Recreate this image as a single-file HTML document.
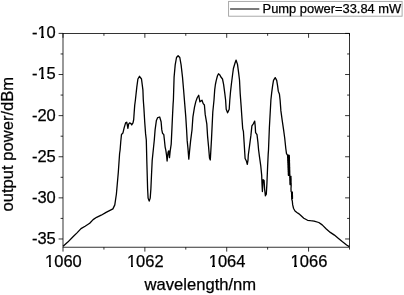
<!DOCTYPE html>
<html><head><meta charset="utf-8"><style>
html,body{margin:0;padding:0;background:#fff;width:404px;height:295px;overflow:hidden}
svg{display:block;will-change:transform}
text{font-family:"Liberation Sans",sans-serif;fill:#000;stroke:#000;stroke-width:0.25px}
</style></head><body>
<svg width="404" height="295" viewBox="0 0 404 295">
<rect x="0" y="0" width="404" height="295" fill="#fff"/>
<rect x="228.6" y="1.4" width="173.5" height="14.8" fill="#fff" stroke="#a0a0a0" stroke-width="0.9"/>
<line x1="230.1" y1="9" x2="259.3" y2="9" stroke="#333" stroke-width="1.3"/>
<text x="262.6" y="12.7" font-size="12.9">Pump power=33.84 mW</text>
<g stroke="#000" stroke-width="0.8" fill="none">
<rect x="63.0" y="33.4" width="286.5" height="213.79999999999998"/>
<line x1="63.00" y1="247.20" x2="63.00" y2="251.60"/><line x1="63.00" y1="33.40" x2="63.00" y2="37.80"/><line x1="103.93" y1="247.20" x2="103.93" y2="249.60"/><line x1="103.93" y1="33.40" x2="103.93" y2="35.80"/><line x1="144.86" y1="247.20" x2="144.86" y2="251.60"/><line x1="144.86" y1="33.40" x2="144.86" y2="37.80"/><line x1="185.79" y1="247.20" x2="185.79" y2="249.60"/><line x1="185.79" y1="33.40" x2="185.79" y2="35.80"/><line x1="226.71" y1="247.20" x2="226.71" y2="251.60"/><line x1="226.71" y1="33.40" x2="226.71" y2="37.80"/><line x1="267.64" y1="247.20" x2="267.64" y2="249.60"/><line x1="267.64" y1="33.40" x2="267.64" y2="35.80"/><line x1="308.57" y1="247.20" x2="308.57" y2="251.60"/><line x1="308.57" y1="33.40" x2="308.57" y2="37.80"/><line x1="349.50" y1="247.20" x2="349.50" y2="249.60"/><line x1="349.50" y1="33.40" x2="349.50" y2="35.80"/><line x1="63.00" y1="33.40" x2="58.60" y2="33.40"/><line x1="349.50" y1="33.40" x2="345.10" y2="33.40"/><line x1="63.00" y1="53.96" x2="60.60" y2="53.96"/><line x1="349.50" y1="53.96" x2="347.10" y2="53.96"/><line x1="63.00" y1="74.52" x2="58.60" y2="74.52"/><line x1="349.50" y1="74.52" x2="345.10" y2="74.52"/><line x1="63.00" y1="95.07" x2="60.60" y2="95.07"/><line x1="349.50" y1="95.07" x2="347.10" y2="95.07"/><line x1="63.00" y1="115.63" x2="58.60" y2="115.63"/><line x1="349.50" y1="115.63" x2="345.10" y2="115.63"/><line x1="63.00" y1="136.19" x2="60.60" y2="136.19"/><line x1="349.50" y1="136.19" x2="347.10" y2="136.19"/><line x1="63.00" y1="156.75" x2="58.60" y2="156.75"/><line x1="349.50" y1="156.75" x2="345.10" y2="156.75"/><line x1="63.00" y1="177.30" x2="60.60" y2="177.30"/><line x1="349.50" y1="177.30" x2="347.10" y2="177.30"/><line x1="63.00" y1="197.86" x2="58.60" y2="197.86"/><line x1="349.50" y1="197.86" x2="345.10" y2="197.86"/><line x1="63.00" y1="218.42" x2="60.60" y2="218.42"/><line x1="349.50" y1="218.42" x2="347.10" y2="218.42"/><line x1="63.00" y1="238.98" x2="58.60" y2="238.98"/><line x1="349.50" y1="238.98" x2="345.10" y2="238.98"/>
</g>
<path d="M63.1,246.2 L67.8,242.1 L73.5,236.3 L77.0,232.9 L81.0,228.6 L85.1,226.2 L89.7,223.3 L93.1,219.6 L96.6,217.3 L101.2,215.2 L106.1,212.4 L112.9,208.9 L114.8,204.9 L116.4,194.0 L118.3,172.4 L119.6,153.5 L120.1,150.0 L120.8,141.2 L121.5,134.4 L122.9,133.1 L124.2,127.6 L125.6,122.9 L126.7,122.2 L127.3,124.9 L127.9,128.3 L128.6,124.2 L129.6,122.9 L131.0,123.6 L131.7,124.9 L133.0,122.9 L133.7,119.5 L134.1,113.6 L134.7,105.4 L135.4,100.0 L136.8,87.1 L137.9,79.0 L139.5,76.3 L141.5,79.0 L142.9,89.9 L143.3,100.0 L143.9,108.1 L144.7,121.7 L145.6,133.9 L146.3,140.0 L146.8,160.4 L147.3,178.0 L147.6,188.6 L148.1,198.1 L149.2,201.1 L150.2,198.1 L150.9,188.6 L151.5,175.0 L152.2,160.4 L153.6,146.8 L154.3,140.0 L155.1,129.9 L156.4,120.4 L157.7,117.6 L159.7,117.0 L161.1,121.7 L161.8,129.9 L162.5,133.2 L163.8,134.6 L164.4,140.0 L165.1,146.8 L165.8,150.2 L166.5,154.9 L167.1,161.0 L168.1,152.0 L168.8,150.9 L169.5,157.6 L170.2,150.9 L171.2,144.1 L172.0,127.1 L172.6,114.0 L173.1,104.1 L173.4,100.0 L173.7,90.0 L174.1,77.1 L175.2,64.9 L176.5,57.5 L178.1,55.7 L179.8,57.5 L181.1,64.9 L182.5,77.1 L183.6,90.0 L184.7,103.6 L185.8,117.1 L186.6,130.0 L187.2,140.9 L187.9,147.6 L188.8,159.2 L189.5,151.7 L190.6,140.9 L192.0,130.0 L192.9,117.1 L194.5,107.2 L195.8,101.6 L197.2,97.8 L198.7,95.2 L199.3,98.5 L199.9,101.9 L200.8,101.0 L202.0,100.2 L203.2,103.6 L204.4,105.0 L205.2,114.4 L206.8,123.9 L207.6,136.4 L208.5,146.0 L209.5,158.0 L210.3,160.0 L211.5,139.1 L212.8,112.0 L214.0,100.0 L214.7,89.9 L215.4,84.5 L216.2,80.7 L217.4,76.0 L218.5,73.8 L219.8,74.9 L220.9,77.0 L222.5,79.0 L223.6,84.4 L224.7,92.6 L225.6,100.0 L226.2,109.3 L227.6,112.8 L229.2,109.3 L229.8,100.0 L230.5,92.0 L231.4,84.0 L232.6,74.5 L233.4,68.5 L235.1,62.7 L236.1,60.1 L237.5,64.4 L238.6,72.6 L239.5,80.0 L240.2,93.6 L241.2,107.1 L241.8,116.0 L242.7,128.6 L243.4,131.3 L244.1,142.1 L245.1,158.5 L246.4,161.0 L247.3,164.4 L248.0,160.2 L248.3,155.0 L249.5,146.2 L250.9,135.4 L251.9,125.9 L253.3,123.8 L254.7,121.1 L255.2,125.9 L255.6,132.6 L257.0,134.7 L257.9,142.1 L258.6,150.0 L259.5,156.8 L260.7,165.3 L261.7,175.4 L262.0,183.9 L262.4,191.5 L263.1,179.7 L264.1,180.5 L264.6,189.0 L265.4,195.8 L266.3,194.1 L266.9,183.9 L267.6,166.9 L268.2,154.1 L268.5,150.0 L269.4,127.0 L270.9,100.0 L271.7,92.6 L272.6,85.8 L273.5,80.4 L275.2,77.6 L276.7,80.4 L277.6,85.8 L278.3,91.2 L279.4,93.9 L280.1,100.0 L280.9,110.9 L282.2,120.4 L283.6,129.9 L284.7,138.0 L285.8,148.5 L286.5,153.6 L287.7,155.3 L287.5,155.0 L289.3,155.3 L287.5,155.7 L289.3,156.0 L287.6,156.4 L289.4,156.7 L287.6,157.1 L289.4,157.4 L287.6,157.8 L289.4,158.1 L287.7,158.5 L289.4,158.8 L287.7,159.2 L289.4,159.5 L287.7,159.9 L289.5,160.2 L287.7,160.6 L289.5,160.9 L287.8,161.3 L289.5,161.6 L287.8,162.0 L289.5,162.3 L287.8,162.7 L289.5,163.0 L287.9,163.4 L289.6,163.7 L287.9,164.1 L289.6,164.4 L287.9,164.8 L289.6,165.1 L288.0,165.5 L289.6,165.8 L288.0,166.2 L289.6,166.5 L288.0,166.9 L289.7,167.2 L288.0,167.6 L289.7,167.9 L288.1,168.3 L289.7,168.6 L288.1,169.0 L289.7,169.3 L288.1,169.7 L289.7,170.0 L288.2,170.4 L289.8,170.7 L288.2,171.1 L289.8,171.4 L288.2,171.8 L289.8,172.1 L288.3,172.5 L289.8,172.8 L288.3,173.2 L289.8,173.5 L288.3,173.9 L289.9,174.2 L288.3,174.6 L289.9,174.9 L288.4,175.3 L289.9,175.6 L289.7,176.2 L291.0,176.5 L289.7,176.9 L291.0,177.2 L289.7,177.6 L291.0,177.9 L289.8,178.3 L291.1,178.6 L289.8,179.0 L291.1,179.3 L289.8,179.7 L291.1,180.0 L289.8,180.4 L291.1,180.7 L289.9,181.1 L291.1,181.4 L289.9,181.8 L291.1,182.1 L289.9,182.5 L291.1,182.8 L289.9,183.2 L291.2,183.5 L290.0,183.9 L291.2,184.2 L290.0,184.6 L291.2,184.9 L291.0,188.5 L291.1,191.5 L291.5,191.8 L292.4,192.2 L291.5,192.5 L292.4,192.8 L291.5,193.2 L292.4,193.5 L291.6,193.9 L292.4,194.2 L291.6,194.6 L292.4,194.9 L291.6,195.3 L292.5,195.6 L291.6,196.0 L292.5,196.3 L291.6,196.7 L292.5,197.0 L291.7,197.4 L292.5,197.7 L291.7,198.1 L292.5,198.4 L291.7,198.8 L292.3,201.0 L292.7,204.9 L293.6,208.5 L295.0,211.0 L296.9,212.5 L298.6,213.6 L300.3,215.0 L303.8,218.2 L307.6,220.3 L310.5,220.7 L314.1,221.1 L318.8,222.5 L322.2,224.9 L326.3,229.0 L330.3,232.4 L334.4,235.1 L338.5,238.5 L342.5,241.8 L346.6,245.0 L349.3,246.6" fill="none" stroke="#000" stroke-width="1.3" stroke-linejoin="round"/>
<g font-size="16.5">
<text x="63.40" y="267.3" text-anchor="middle">1060</text><text x="145.26" y="267.3" text-anchor="middle">1062</text><text x="227.11" y="267.3" text-anchor="middle">1064</text><text x="308.97" y="267.3" text-anchor="middle">1066</text><text x="55.8" y="38.30" text-anchor="end">-10</text><text x="55.8" y="79.42" text-anchor="end">-15</text><text x="55.8" y="120.53" text-anchor="end">-20</text><text x="55.8" y="161.65" text-anchor="end">-25</text><text x="55.8" y="202.76" text-anchor="end">-30</text><text x="55.8" y="243.88" text-anchor="end">-35</text>
<text x="200.35" y="290" text-anchor="middle" font-size="16.6">wavelength/nm</text>
<text transform="translate(13.3,144.2) rotate(-90)" text-anchor="middle" font-size="16.6">output power/dBm</text>
</g>
<g fill="#fff"><rect x="46" y="265" width="3" height="3"/><rect x="51" y="265" width="3" height="3"/><rect x="49" y="267" width="2" height="1"/><rect x="128" y="265" width="3" height="3"/><rect x="133" y="265" width="3" height="3"/><rect x="131" y="267" width="2" height="1"/><rect x="209" y="265" width="3" height="3"/><rect x="215" y="265" width="3" height="3"/><rect x="212" y="267" width="3" height="1"/><rect x="291" y="265" width="3" height="3"/><rect x="297" y="265" width="2" height="3"/><rect x="294" y="267" width="3" height="1"/><rect x="38" y="36" width="3" height="3"/><rect x="44" y="36" width="2" height="3"/><rect x="41" y="38" width="3" height="1"/><rect x="38" y="77" width="3" height="3"/><rect x="44" y="77" width="2" height="3"/><rect x="41" y="79" width="3" height="1"/></g>
</svg>
</body></html>
